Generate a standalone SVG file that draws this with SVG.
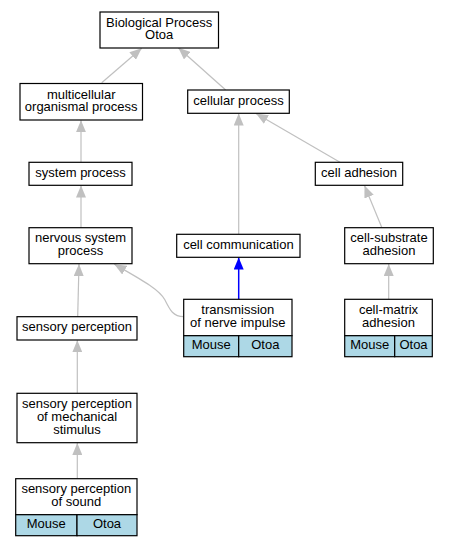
<svg xmlns="http://www.w3.org/2000/svg" width="449" height="547" viewBox="0 0 449 547">
<defs>
<marker id="ag" markerWidth="12" markerHeight="10" refX="12" refY="5" orient="auto" markerUnits="userSpaceOnUse"><path d="M0,0 L12,5 L0,10 Z" fill="#c0c0c0"/></marker>
<marker id="ab" markerWidth="12" markerHeight="10" refX="12" refY="5" orient="auto" markerUnits="userSpaceOnUse"><path d="M0,0 L12,5 L0,10 Z" fill="#0000ff"/></marker>
</defs>
<style>
text{font-family:"Liberation Sans",Arial,sans-serif;font-size:13px;text-anchor:middle;fill:#000}
.n{fill:#fff;stroke:#000;stroke-width:1.2}
.s{fill:#add8e6;stroke:#000;stroke-width:1.2}
.e{fill:none;stroke:#c0c0c0;stroke-width:1.2;marker-end:url(#ag)}
.b{fill:none;stroke:#0000ff;stroke-width:1.5;marker-end:url(#ab)}
</style>
<rect width="449" height="547" fill="#fff"/>
<g id="edges">
<path class="e" d="M101.7,82.7 L141.7,48.3"/>
<path class="e" d="M225.7,90 L178.3,47.7"/>
<path class="e" d="M81,162.3 L81,120.2"/>
<path class="e" d="M238.7,234.3 L238.7,113.5"/>
<path class="e" d="M340,162.3 L256,113.5"/>
<path class="e" d="M81,227.7 L81,185.5"/>
<path class="e" d="M381.7,227.3 L364.5,185.5"/>
<path class="b" d="M238.7,299.3 L238.7,257.5"/>
<path class="e" d="M183.7,316.7 C173,316.5 170,310 165,300 C159,289 140,279 114.3,264.2"/>
<path class="e" d="M388.7,299.3 L388.7,264"/>
<path class="e" d="M77.7,316.7 L79,264"/>
<path class="e" d="M77.3,393.3 L77.3,340.3"/>
<path class="e" d="M77.3,478.7 L77.3,443"/>
</g>
<g id="bp"><rect class="n" x="100" y="12" width="118.5" height="36"/><text x="159.2" y="26.5">Biological Process</text><text x="159.2" y="39">Otoa</text></g>
<g id="mop"><rect class="n" x="20" y="83.5" width="122.5" height="36.5"/><text x="81.2" y="98.5">multicellular</text><text x="81.2" y="111.2">organismal process</text></g>
<g id="cp"><rect class="n" x="187.7" y="90" width="101.6" height="23.3"/><text x="238.5" y="104.8">cellular process</text></g>
<g id="sp"><rect class="n" x="29" y="162.3" width="103" height="23"/><text x="80.5" y="177.2">system process</text></g>
<g id="ca"><rect class="n" x="315.3" y="162.3" width="87.4" height="23"/><text x="359" y="177.2">cell adhesion</text></g>
<g id="nsp"><rect class="n" x="29" y="227.7" width="103" height="36"/><text x="80.5" y="242.2">nervous system</text><text x="80.5" y="255.2">process</text></g>
<g id="cc"><rect class="n" x="176.7" y="234.3" width="123.3" height="23"/><text x="238.4" y="248.8">cell communication</text></g>
<g id="csa"><rect class="n" x="344.7" y="227.7" width="88.6" height="36"/><text x="389" y="242.2">cell-substrate</text><text x="389" y="255.2">adhesion</text></g>
<g id="tni"><rect class="n" x="183.7" y="299.3" width="108.3" height="36.4"/><rect class="s" x="183.7" y="335.7" width="55" height="21"/><rect class="s" x="238.7" y="335.7" width="53.3" height="21"/><text x="237.8" y="314.2">transmission</text><text x="237.8" y="327.2">of nerve impulse</text><text x="211.2" y="349.2">Mouse</text><text x="265.3" y="349.2">Otoa</text></g>
<g id="cma"><rect class="n" x="344.7" y="299.3" width="87.6" height="36.4"/><rect class="s" x="344.7" y="335.7" width="50" height="21"/><rect class="s" x="394.7" y="335.7" width="37.6" height="21"/><text x="388.5" y="314.2">cell-matrix</text><text x="388.5" y="327.2">adhesion</text><text x="369.7" y="349.2">Mouse</text><text x="413.5" y="349.2">Otoa</text></g>
<g id="spc"><rect class="n" x="17" y="316.7" width="120" height="23.3"/><text x="77" y="331.2">sensory perception</text></g>
<g id="spm"><rect class="n" x="17" y="393.3" width="120" height="49.4"/><text x="77" y="407.5">sensory perception</text><text x="77" y="420.8">of mechanical</text><text x="77" y="433.8">stimulus</text></g>
<g id="sps"><rect class="n" x="15.7" y="478.7" width="121.3" height="36"/><rect class="s" x="15.7" y="514.7" width="61.3" height="21"/><rect class="s" x="77" y="514.7" width="60" height="21"/><text x="76.3" y="493.2">sensory perception</text><text x="76.3" y="506.2">of sound</text><text x="46.3" y="528.2">Mouse</text><text x="107" y="528.2">Otoa</text></g>
</svg>
